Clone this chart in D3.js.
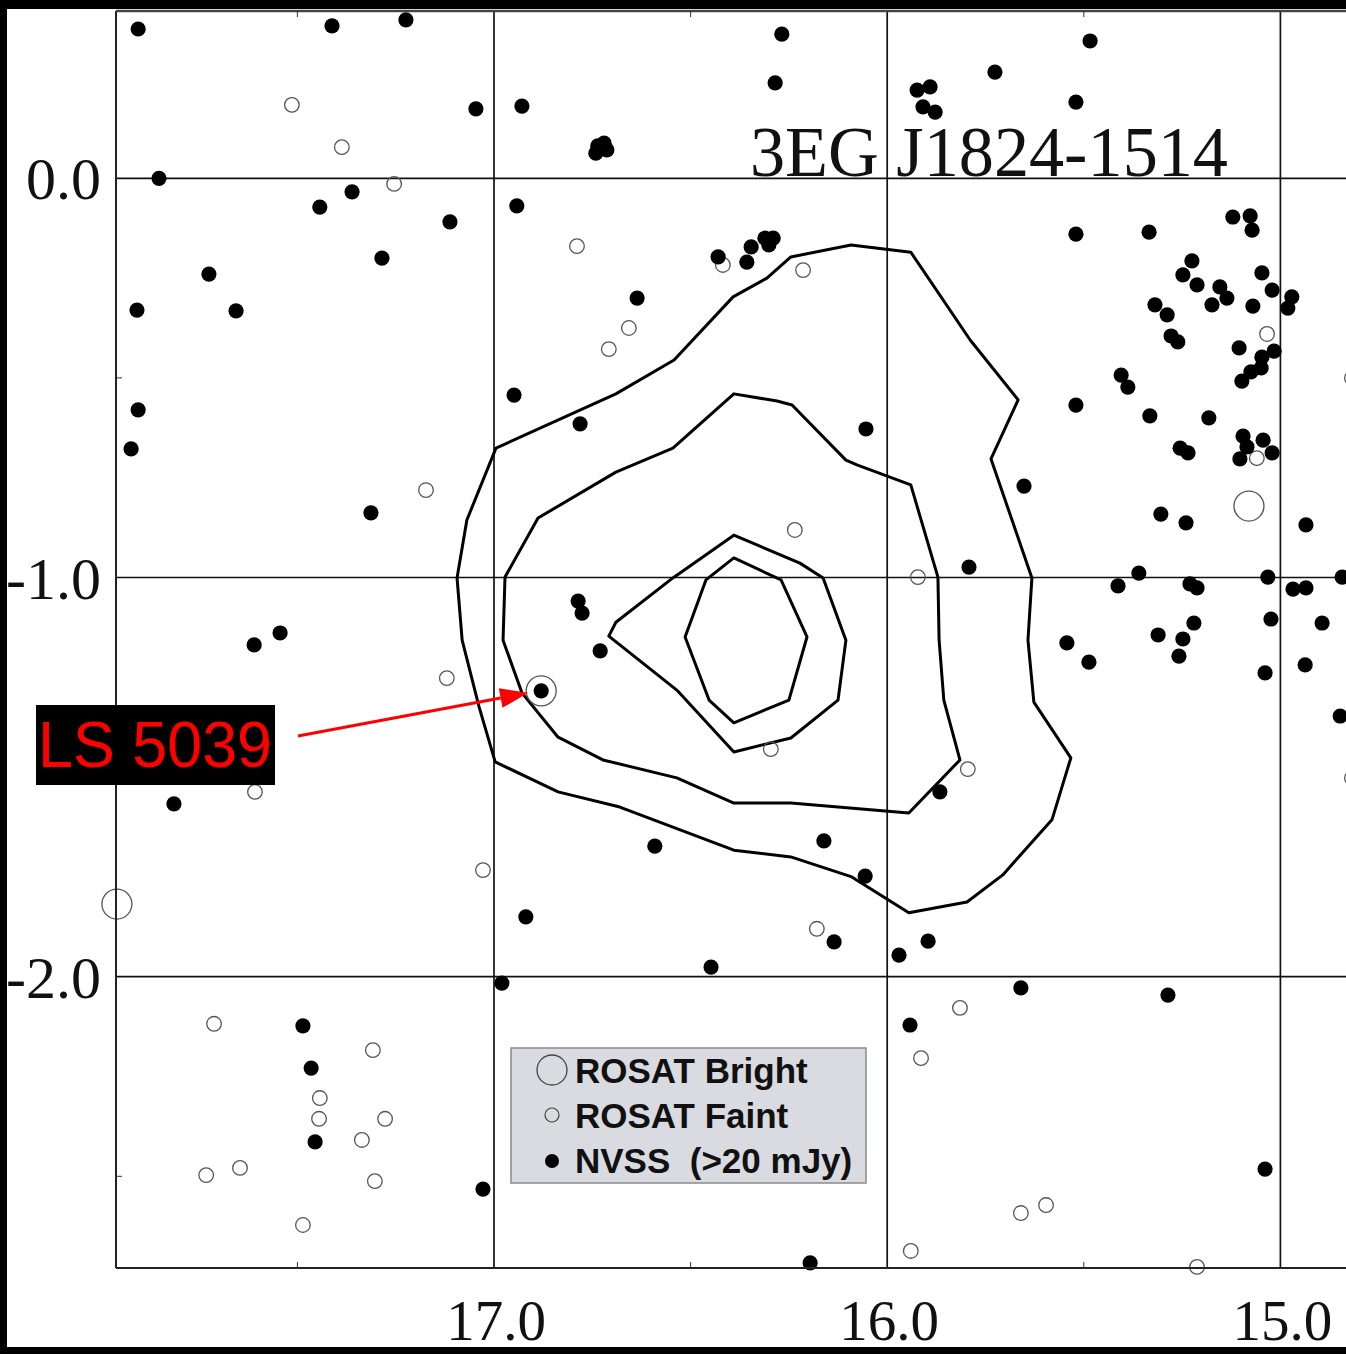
<!DOCTYPE html>
<html><head><meta charset="utf-8">
<script src="https://cdn.jsdelivr.net/npm/d3@7"></script>
<style>html,body{margin:0;padding:0;background:#000;overflow:hidden}</style>
</head><body>
<svg id="c" width="1346" height="1354"></svg>
<script>
// ---------- data (galactic l, b in degrees) ----------
const xTicks = [17, 16, 15];
const xTickLabels = ["17.0", "16.0", "15.0"];
const yTicks = [0, -1, -2];
const yTickLabels = ["0.0", "-1.0", "-2.0"];
const xMinor = [17.5, 16.5, 15.5];
const yMinor = [-0.5, -1.5, -2.5];
const title = "3EG J1824-1514";
const legendLabels = ["ROSAT Bright", "ROSAT Faint", "NVSS  (>20 mJy)"];
const sourceName = "LS 5039";
const sourcePos = [16.880, -1.284];

const nvss = [
  [17.905,0.374],[17.412,0.382],[17.224,0.397],[17.852,0.000],[17.443,-0.072],[17.361,-0.034],
  [17.285,-0.200],[17.725,-0.240],[17.656,-0.332],[17.908,-0.330],[17.112,-0.109],[17.046,0.174],
  [16.929,0.181],[16.942,-0.069],[16.741,0.063],[16.720,0.088],[16.713,0.071],[16.736,0.081],
  [16.268,0.361],[16.285,0.239],[15.924,0.221],[15.891,0.229],[15.909,0.179],[15.878,0.166],
  [15.726,0.266],[15.484,0.344],[15.520,0.191],[15.520,-0.140],[15.334,-0.135],
  [16.636,-0.300],[16.430,-0.197],[16.357,-0.210],[16.346,-0.172],[16.311,-0.150],[16.290,-0.150],[16.301,-0.167],
  [16.949,-0.543],[16.781,-0.615],[16.054,-0.628],[17.313,-0.838],[17.905,-0.580],[17.923,-0.678],
  [16.786,-1.059],[16.776,-1.089],[16.730,-1.184],[16.880,-1.284],
  [17.610,-1.169],[17.544,-1.139],[17.814,-1.567],[16.591,-1.673],[16.161,-1.660],[16.056,-1.748],
  [15.866,-1.537],[15.792,-0.974],[15.652,-0.771],
  [16.919,-1.850],[16.980,-2.016],[16.448,-1.976],[16.135,-1.913],[15.970,-1.946],[15.896,-1.911],
  [15.942,-2.121],[15.660,-2.028],[15.286,-2.046],[15.039,-2.482],[16.196,-2.717],[17.028,-2.532],
  [17.486,-2.123],[17.465,-2.229],[17.455,-2.414],
  [15.121,-0.097],[15.077,-0.094],[15.072,-0.130],[15.225,-0.207],[15.248,-0.242],[15.212,-0.267],
  [15.154,-0.272],[15.136,-0.300],[15.174,-0.317],[15.047,-0.237],[15.021,-0.280],[15.070,-0.320],
  [14.971,-0.297],[14.981,-0.325],[15.319,-0.317],[15.288,-0.342],[15.278,-0.395],[15.261,-0.410],
  [15.105,-0.425],[15.016,-0.433],[15.047,-0.448],[15.049,-0.475],[15.075,-0.485],[15.098,-0.508],
  [15.405,-0.493],[15.388,-0.523],[15.332,-0.595],[15.182,-0.600],[15.095,-0.646],[15.044,-0.656],
  [15.085,-0.673],[15.021,-0.688],[15.103,-0.703],[15.255,-0.676],[15.235,-0.688],[15.304,-0.841],
  [15.240,-0.863],[14.935,-0.868],[15.360,-0.989],[15.413,-1.021],[15.230,-1.016],[15.212,-1.026],
  [15.032,-0.999],[14.968,-1.029],[14.935,-1.026],[14.843,-0.999],[15.220,-1.114],[15.311,-1.144],
  [15.248,-1.154],[15.258,-1.197],[15.024,-1.104],[14.894,-1.114],[15.039,-1.239],[14.937,-1.219],
  [14.848,-1.347],[15.520,-0.568],[15.543,-1.164],[15.487,-1.212]
];

const rosatFaint = [
  [17.514,0.184],[17.387,0.078],[17.254,-0.014],[16.789,-0.170],[16.708,-0.428],[16.657,-0.375],
  [16.418,-0.217],[16.214,-0.230],[17.173,-0.781],[16.235,-0.881],[15.922,-0.999],[17.120,-1.252],
  [17.608,-1.537],[16.296,-1.430],[15.795,-1.480],[17.028,-1.733],[16.179,-1.880],[15.815,-2.078],
  [15.914,-2.204],[17.712,-2.118],[17.308,-2.184],[17.443,-2.304],[17.445,-2.356],[17.277,-2.356],
  [17.336,-2.409],[17.732,-2.497],[17.646,-2.479],[17.303,-2.512],[17.486,-2.622],[15.660,-2.592],
  [15.596,-2.572],[15.940,-2.687],[15.212,-2.727],[15.034,-0.390],[15.060,-0.701],[14.818,-0.500],
  [14.818,-1.502]
];

const rosatBright = [[17.959,-1.818],[15.080,-0.821],[16.880,-1.284]];

const contour1 = [
  [16.995,-0.676],[16.690,-0.540],[16.542,-0.455],[16.392,-0.297],[16.306,-0.250],[16.245,-0.197],
  [16.092,-0.167],[15.940,-0.185],[15.789,-0.405],[15.667,-0.555],[15.736,-0.703],[15.632,-1.001],
  [15.642,-1.157],[15.627,-1.312],[15.533,-1.452],[15.581,-1.607],[15.706,-1.745],[15.797,-1.813],
  [15.945,-1.840],[16.090,-1.750],[16.245,-1.700],[16.390,-1.683],[16.680,-1.575],[16.837,-1.537],
  [16.997,-1.462],[17.038,-1.324],[17.081,-1.157],[17.094,-1.001],[17.069,-0.856]
];
const contour2 = [
  [16.390,-0.540],[16.280,-0.558],[16.242,-0.568],[16.105,-0.706],[16.077,-0.718],[15.940,-0.768],
  [15.871,-0.999],[15.868,-1.157],[15.856,-1.307],[15.815,-1.457],[15.945,-1.590],[16.245,-1.565],
  [16.390,-1.565],[16.535,-1.502],[16.723,-1.457],[16.837,-1.400],[16.929,-1.289],[16.977,-1.157],
  [16.972,-0.999],[16.888,-0.851],[16.690,-0.736],[16.545,-0.676]
];
const contour3 = [
  [16.390,-0.894],[16.222,-0.964],[16.163,-1.001],[16.105,-1.157],[16.125,-1.307],[16.245,-1.402],
  [16.390,-1.437],[16.535,-1.282],[16.708,-1.147],[16.690,-1.112],[16.545,-1.001]
];
const contour4 = [
  [16.390,-0.951],[16.270,-1.006],[16.204,-1.149],[16.250,-1.307],[16.390,-1.364],[16.453,-1.307],
  [16.514,-1.149],[16.461,-1.006]
];
const contours = [contour1, contour2, contour3, contour4];

// ---------- layout ----------
const W = 1346, H = 1354;
const P = {left: 116, top: 11, right: 1346, bottom: 1268};
const x = d3.scaleLinear().domain([17, 15]).range([494, 1280.4]);
const y = d3.scaleLinear().domain([0, -2]).range([178.3, 976.7]);

const svg = d3.select("#c");
svg.append("rect").attr("x",0).attr("y",0).attr("width",W).attr("height",H).attr("fill","#000");
svg.append("rect").attr("x",7).attr("y",9).attr("width",W-7).attr("height",1338).attr("fill","#fff");

const defs = svg.append("defs");
defs.append("clipPath").attr("id","plotclip").append("rect")
  .attr("x",P.left).attr("y",P.top).attr("width",P.right-P.left+20).attr("height",P.bottom-P.top);
defs.append("clipPath").attr("id","markclip").append("rect")
  .attr("x",7).attr("y",P.top).attr("width",W).attr("height",P.bottom-P.top+10);

const g = svg.append("g").attr("clip-path","url(#plotclip)");
const gm = svg.append("g").attr("clip-path","url(#markclip)");

// grid
g.selectAll("line.vg").data(xTicks).enter().append("line")
  .attr("x1",d=>x(d)).attr("x2",d=>x(d)).attr("y1",P.top).attr("y2",P.bottom)
  .attr("stroke","#111").attr("stroke-width",1.7);
g.selectAll("line.hg").data(yTicks).enter().append("line")
  .attr("x1",P.left).attr("x2",P.right).attr("y1",d=>y(d)).attr("y2",d=>y(d))
  .attr("stroke","#111").attr("stroke-width",1.7);

// contours
const line = d3.line().x(d=>x(d[0])).y(d=>y(d[1])).curve(d3.curveLinearClosed);
g.selectAll("path.ct").data(contours).enter().append("path")
  .attr("d",line).attr("fill","none").attr("stroke","#000").attr("stroke-width",3)
  .attr("stroke-linejoin","round");

// markers
gm.selectAll("circle.f").data(rosatFaint).enter().append("circle")
  .attr("cx",d=>x(d[0])).attr("cy",d=>y(d[1])).attr("r",7.3)
  .attr("fill","none").attr("stroke","#555").attr("stroke-width",1.3);
gm.selectAll("circle.b").data(rosatBright).enter().append("circle")
  .attr("cx",d=>x(d[0])).attr("cy",d=>y(d[1])).attr("r",15)
  .attr("fill","none").attr("stroke","#555").attr("stroke-width",1.3);
gm.selectAll("circle.n").data(nvss).enter().append("circle")
  .attr("cx",d=>x(d[0])).attr("cy",d=>y(d[1])).attr("r",7.6).attr("fill","#000");

// frame + minor ticks
svg.append("line").attr("x1",P.left).attr("x2",P.left).attr("y1",P.top).attr("y2",P.bottom)
  .attr("stroke","#222").attr("stroke-width",2);
svg.append("line").attr("x1",P.left).attr("x2",P.right).attr("y1",P.bottom).attr("y2",P.bottom)
  .attr("stroke","#222").attr("stroke-width",2.2);
svg.append("line").attr("x1",P.left).attr("x2",P.right).attr("y1",P.top).attr("y2",P.top)
  .attr("stroke","#444").attr("stroke-width",2.5);
svg.selectAll("line.tt").data(xMinor).enter().append("line")
  .attr("x1",d=>x(d)).attr("x2",d=>x(d)).attr("y1",P.top).attr("y2",P.top+6)
  .attr("stroke","#333").attr("stroke-width",1);
svg.selectAll("line.bt").data(xMinor).enter().append("line")
  .attr("x1",d=>x(d)).attr("x2",d=>x(d)).attr("y1",P.bottom).attr("y2",P.bottom-6)
  .attr("stroke","#333").attr("stroke-width",1);
svg.selectAll("line.lt").data(yMinor).enter().append("line")
  .attr("x1",P.left).attr("x2",P.left+6).attr("y1",d=>y(d)).attr("y2",d=>y(d))
  .attr("stroke","#333").attr("stroke-width",1);

// outer black border (top) drawn over the plot area edge
svg.append("rect").attr("x",0).attr("y",0).attr("width",W).attr("height",9).attr("fill","#000");

// title
svg.append("text").attr("x",750).attr("y",176).text(title)
  .attr("font-family","'Liberation Serif','Times New Roman',serif").attr("font-size",72)
  .attr("fill","#111").attr("textLength",478).attr("lengthAdjust","spacingAndGlyphs");

// tick labels
svg.selectAll("text.xl").data(xTicks).enter().append("text")
  .attr("x",d=>x(d)+2).attr("y",1340).attr("text-anchor","middle")
  .attr("font-family","'Liberation Serif','Times New Roman',serif").attr("font-size",57)
  .attr("fill","#111").text((d,i)=>xTickLabels[i]);
svg.selectAll("text.yl").data(yTicks).enter().append("text")
  .attr("x",101).attr("y",d=>y(d)+21).attr("text-anchor","end")
  .attr("font-family","'Liberation Serif','Times New Roman',serif").attr("font-size",60)
  .attr("fill","#111").text((d,i)=>yTickLabels[i]);

// legend
const lg = svg.append("g");
lg.append("rect").attr("x",511).attr("y",1048).attr("width",355).attr("height",135)
  .attr("fill","#d9dbe0").attr("stroke","#8a8a8a").attr("stroke-width",1.5);
const ly = [1083, 1128, 1173];
lg.append("circle").attr("cx",552).attr("cy",1070).attr("r",15).attr("fill","none").attr("stroke","#444").attr("stroke-width",1.3);
lg.append("circle").attr("cx",552).attr("cy",1115).attr("r",7).attr("fill","none").attr("stroke","#444").attr("stroke-width",1.2);
lg.append("circle").attr("cx",552).attr("cy",1161).attr("r",7).attr("fill","#000");
lg.selectAll("text").data(legendLabels).enter().append("text")
  .attr("x",575).attr("y",(d,i)=>ly[i]).text(d=>d)
  .attr("font-family","'Liberation Sans',Arial,sans-serif").attr("font-weight","bold")
  .attr("font-size",35).attr("fill","#111").style("white-space","pre");

// LS 5039 label and arrow
svg.append("rect").attr("x",36).attr("y",705).attr("width",239).attr("height",80).attr("fill","#000");
svg.append("text").attr("x",38).attr("y",767).text(sourceName)
  .attr("font-family","'Liberation Sans',Arial,sans-serif").attr("font-size",64)
  .attr("fill","#ff0000").attr("textLength",234).attr("lengthAdjust","spacingAndGlyphs");
const tip = [x(sourcePos[0]) - 13, y(sourcePos[1]) + 2];
const start = [298, 736];
const dx = tip[0]-start[0], dy = tip[1]-start[1], len = Math.hypot(dx,dy);
const ux = dx/len, uy = dy/len, hl = 28, hw = 10;
const base = [tip[0]-ux*hl, tip[1]-uy*hl];
svg.append("line").attr("x1",start[0]).attr("y1",start[1]).attr("x2",base[0]).attr("y2",base[1])
  .attr("stroke","#ff0000").attr("stroke-width",3);
svg.append("path").attr("d",`M${tip[0]},${tip[1]}L${base[0]-uy*hw},${base[1]+ux*hw}L${base[0]+uy*hw},${base[1]-ux*hw}Z`)
  .attr("fill","#ff0000");
</script>
</body></html>
